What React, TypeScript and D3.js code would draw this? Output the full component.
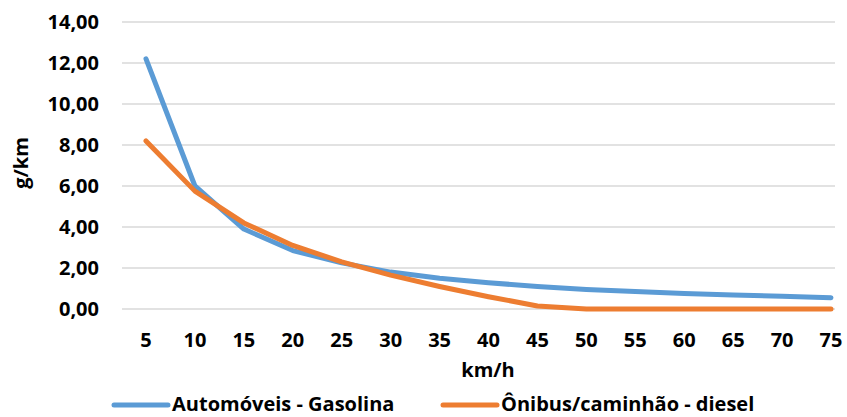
import React from "react";
import * as d3 from "d3";

const categories = ["5", "10", "15", "20", "25", "30", "35", "40", "45", "50", "55", "60", "65", "70", "75"];
const gasolina = [12.2, 6.0, 3.9, 2.85, 2.25, 1.8, 1.5, 1.28, 1.1, 0.95, 0.85, 0.76, 0.68, 0.62, 0.55];
const diesel = [8.2, 5.75, 4.2, 3.1, 2.3, 1.65, 1.1, 0.6, 0.15, 0.0, 0.0, 0.0, 0.0, 0.0, 0.0];
const yTicks = [0, 2, 4, 6, 8, 10, 12, 14];
const seriesNames = ["Automóveis - Gasolina", "Ônibus/caminhão - diesel"];
const colors = ["#5B9BD5", "#ED7D31"];

const W = 847;
const H = 417;
const FONT = "'Open Sans', sans-serif";

export default function App() {
  const x = d3.scalePoint<string>().domain(categories).range([146, 831]);
  const y = d3.scaleLinear().domain([0, 14]).range([309, 22]);
  const gridLeft = 122;
  const gridRight = 835;
  const line = d3
    .line<number>()
    .x((_, i) => x(categories[i]) as number)
    .y((d) => y(d));
  const fmt = (v: number) => v.toFixed(2).replace(".", ",");
  const series = [gasolina, diesel];
  const legendX = [114, 443];
  const legendY = 404;

  return (
    <svg
      width={W}
      height={H}
      style={{ position: "absolute", left: 0, top: 0, background: "#fff" }}
      fontFamily={FONT}
    >
      {yTicks.map((t) => (
        <g key={t}>
          <line x1={gridLeft} x2={gridRight} y1={y(t)} y2={y(t)} stroke="#D9D9D9" strokeWidth={1.3} />
          <text x={99} y={y(t)} dy="0.35em" textAnchor="end" fontSize={20} fontWeight="bold" fill="#000">
            {fmt(t)}
          </text>
        </g>
      ))}
      {categories.map((c) => (
        <text key={c} x={x(c)} y={340} dy="0.35em" textAnchor="middle" fontSize={20} fontWeight="bold" fill="#000">
          {c}
        </text>
      ))}
      <text x={488} y={370} dy="0.35em" textAnchor="middle" fontSize={20} fontWeight="bold" fill="#000">
        km/h
      </text>
      <text
        transform={`translate(21,163) rotate(-90)`}
        dy="0.35em"
        textAnchor="middle"
        fontSize={20}
        fontWeight="bold"
        fill="#000"
      >
        g/km
      </text>
      {series.map((s, i) => (
        <path
          key={i}
          d={line(s) as string}
          fill="none"
          stroke={colors[i]}
          strokeWidth={5}
          strokeLinejoin="round"
          strokeLinecap="round"
        />
      ))}
      {seriesNames.map((n, i) => {
        const lx = legendX[i];
        return (
          <g key={n}>
            <line x1={lx} x2={lx + 54} y1={legendY + 1} y2={legendY + 1} stroke={colors[i]} strokeWidth={5} strokeLinecap="round" />
            <text x={lx + 58} y={legendY} dy="0.35em" fontSize={20} fontWeight="bold" fill="#000">
              {n}
            </text>
          </g>
        );
      })}
    </svg>
  );
}
